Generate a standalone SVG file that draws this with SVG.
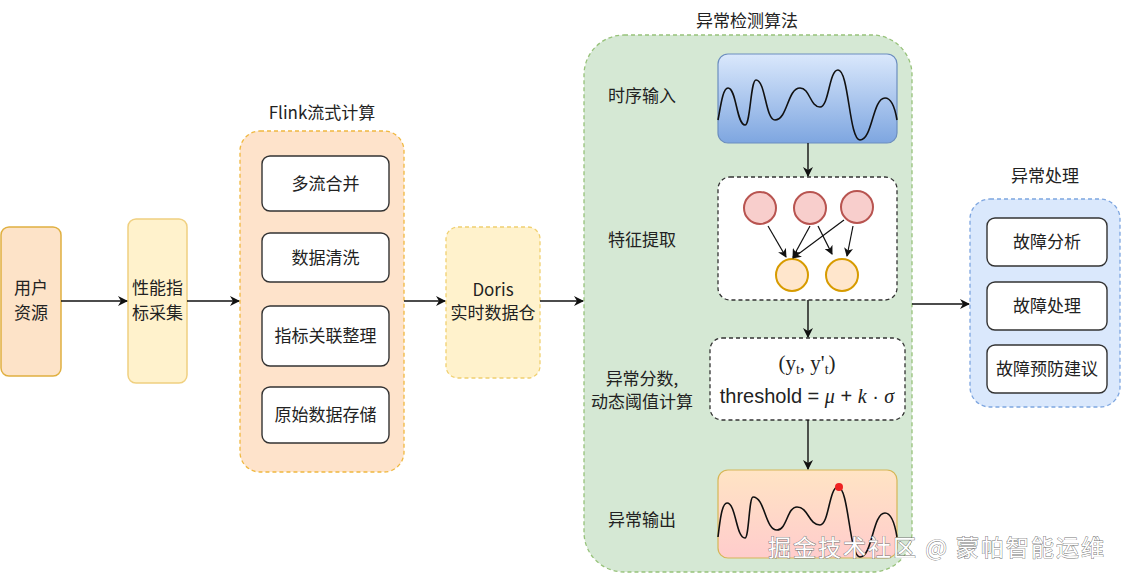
<svg xmlns="http://www.w3.org/2000/svg" width="1122" height="582" viewBox="0 0 1122 582">
<defs>
<style>
text{font-family:"Noto Sans CJK SC","Liberation Sans",sans-serif;fill:#222;}
.lbl{font-size:17px;text-anchor:middle;}
.ttl{font-size:17px;text-anchor:middle;}
.inner{fill:#fff;stroke:#333;stroke-width:1.4;}
.edge{stroke:#111;stroke-width:1.4;fill:none;marker-end:url(#arr);}
.fedge{stroke:#111;stroke-width:1.2;fill:none;marker-end:url(#arr2);}
.wave{fill:none;stroke:#111;stroke-width:1.6;}
</style>
<marker id="arr" markerWidth="10" markerHeight="10" refX="9" refY="5" orient="auto" markerUnits="userSpaceOnUse"><path d="M0,0 L10,5 L0,10 L3,5 Z" fill="#111"/></marker>
<marker id="arr2" markerWidth="9" markerHeight="9" refX="8" refY="4.5" orient="auto" markerUnits="userSpaceOnUse"><path d="M0,0 L9,4.5 L0,9 L2.5,4.5 Z" fill="#111"/></marker>
<linearGradient id="gBlue" x1="0" y1="0" x2="0" y2="1"><stop offset="0" stop-color="#dae8fc"/><stop offset="1" stop-color="#7ea6e0"/></linearGradient>
<linearGradient id="gOut" x1="0" y1="0" x2="0" y2="1"><stop offset="0" stop-color="#ffe4c4"/><stop offset="1" stop-color="#ffcccc"/></linearGradient>
</defs>
<rect width="1122" height="582" fill="#fff"/>

<g id="user">
<rect x="1" y="227" width="60" height="149" rx="8" fill="#fde3c8" stroke="#e0b040" stroke-width="1.5"/>
<text class="lbl" x="31" y="294">用户</text><text class="lbl" x="31" y="319">资源</text>
</g>
<g id="collect">
<rect x="128" y="219" width="59" height="164" rx="8" fill="#fff2cc" stroke="#f0d080" stroke-width="1.5"/>
<text class="lbl" x="157.5" y="294">性能指</text><text class="lbl" x="157.5" y="319">标采集</text>
</g>
<g id="flink">
<text class="ttl" x="322" y="119">Flink流式计算</text>
<rect x="240" y="131" width="164" height="341" rx="20" fill="#fee3cb" stroke="#f0b840" stroke-width="1.3" stroke-dasharray="4 3"/>
<rect class="inner" x="262" y="156" width="127" height="55" rx="8"/><text class="lbl" x="325.5" y="190">多流合并</text>
<rect class="inner" x="262" y="233" width="127" height="49" rx="8"/><text class="lbl" x="325.5" y="264">数据清洗</text>
<rect class="inner" x="262" y="306" width="127" height="60" rx="8"/><text class="lbl" x="325.5" y="342">指标关联整理</text>
<rect class="inner" x="262" y="387" width="127" height="56" rx="8"/><text class="lbl" x="325.5" y="421">原始数据存储</text>
</g>
<g id="doris">
<rect x="446" y="227" width="94" height="151" rx="12" fill="#fff2cc" stroke="#f0d070" stroke-width="1.3" stroke-dasharray="4 3"/>
<text class="lbl" x="493" y="296">Doris</text><text class="lbl" x="493" y="319">实时数据仓</text>
</g>
<g id="algo">
<text class="ttl" x="747" y="27">异常检测算法</text>
<rect x="584" y="35" width="328" height="537" rx="40" fill="#d5e8d4" stroke="#97c27a" stroke-width="1.3" stroke-dasharray="4 3"/>
<text class="lbl" x="642" y="102">时序输入</text>
<text class="lbl" x="642" y="246">特征提取</text>
<text class="lbl" x="642" y="385">异常分数,</text>
<text class="lbl" x="642" y="408">动态阈值计算</text>
<text class="lbl" x="642" y="526">异常输出</text>
</g>
<g id="tsinput">
<rect x="718" y="54" width="179" height="89" rx="10" fill="url(#gBlue)" stroke="#6c8ebf" stroke-width="1.2"/>
<path class="wave" d="M718,120 C721,104 723,88 728,88 C736.5,88 736.5,125 745,125 C750.5,125 750.5,80 756,80 C765.5,80 765.5,120 775,120 C787.5,120 787.5,88 800,88 C810,88 810,107 820,107 C829,107 829,70 838,70 C849,70 849,140 860,140 C872.5,140 872.5,98 885,98 C891,98 895,108 897,120"/>
</g>
<g id="feature">
<rect x="718" y="177" width="179" height="123" rx="12" fill="#fff" stroke="#333" stroke-width="1.3" stroke-dasharray="4 3"/>
<circle cx="760" cy="208" r="16" fill="#f8cecc" stroke="#b85450" stroke-width="2"/>
<circle cx="810" cy="208" r="16" fill="#f8cecc" stroke="#b85450" stroke-width="2"/>
<circle cx="857" cy="207" r="16" fill="#f8cecc" stroke="#b85450" stroke-width="2"/>
<circle cx="792" cy="275" r="16" fill="#ffe6cc" stroke="#d79b00" stroke-width="2"/>
<circle cx="842" cy="275" r="16" fill="#ffe6cc" stroke="#d79b00" stroke-width="2"/>
<path class="fedge" d="M768,226 L786,257"/>
<path class="fedge" d="M810,226 L793,257"/>
<path class="fedge" d="M844,220 L793,258"/>
<path class="fedge" d="M818,226 L832,254"/>
<path class="fedge" d="M853,226 L847,256"/>
</g>
<g id="score">
<rect x="710" y="338" width="195" height="82" rx="12" fill="#fff" stroke="#333" stroke-width="1.3" stroke-dasharray="4 3"/>
<text x="807" y="370" text-anchor="middle" style="font-family:'Liberation Serif',serif;font-size:21px">(y<tspan font-size="14" dy="4">t</tspan><tspan dy="-4">, y'</tspan><tspan font-size="14" dy="4">t</tspan><tspan dy="-4">)</tspan></text>
<text x="807" y="403" text-anchor="middle" style="font-size:20px;font-family:'Liberation Sans',sans-serif">threshold = <tspan style="font-family:'Liberation Serif',serif;font-style:italic">μ</tspan> + <tspan style="font-family:'Liberation Serif',serif;font-style:italic">k</tspan> · <tspan style="font-family:'Liberation Serif',serif;font-style:italic">σ</tspan></text>
</g>
<g id="output">
<rect x="718" y="470" width="179" height="88" rx="10" fill="url(#gOut)" stroke="#d6b656" stroke-width="1.2"/>
<path class="wave" d="M718,537 C720,520 722,503 727,503 C736,503 736,538 745,538 C749,538 749,497 753,497 C765,497 765,530 777,530 C787,530 787,507 797,507 C808.5,507 808.5,525 820,525 C829,525 829,487 838,487 C849,487 849,557 860,557 C872.5,557 872.5,513 885,513 C891,513 895,525 897,537"/>
<circle cx="839" cy="487" r="4" fill="#ee2222"/>
</g>
<g id="handle">
<text class="ttl" x="1045" y="182">异常处理</text>
<rect x="970" y="199" width="150" height="208" rx="20" fill="#dae8fc" stroke="#7ea6e0" stroke-width="1.3" stroke-dasharray="4 3"/>
<rect class="inner" x="987" y="218" width="120" height="48" rx="8"/><text class="lbl" x="1047" y="248">故障分析</text>
<rect class="inner" x="987" y="282" width="120" height="48" rx="8"/><text class="lbl" x="1047" y="312">故障处理</text>
<rect class="inner" x="987" y="345" width="120" height="48" rx="8"/><text class="lbl" x="1047" y="375">故障预防建议</text>
</g>
<g id="connectors">
<path class="edge" d="M61,301 L127,301"/>
<path class="edge" d="M187,301 L239,301"/>
<path class="edge" d="M404,301 L445,301"/>
<path class="edge" d="M540,301 L583,301"/>
<path class="edge" d="M808,143 L808,176"/>
<path class="edge" d="M808,300 L808,337"/>
<path class="edge" d="M808,420 L808,469"/>
<path class="edge" d="M912,304 L969,304"/>
</g>
<text x="768" y="556" style="font-size:23px;letter-spacing:2px;fill:#fff;stroke:#777;stroke-width:0.9;paint-order:stroke">掘金技术社区 @ 蒙帕智能运维</text>
</svg>
